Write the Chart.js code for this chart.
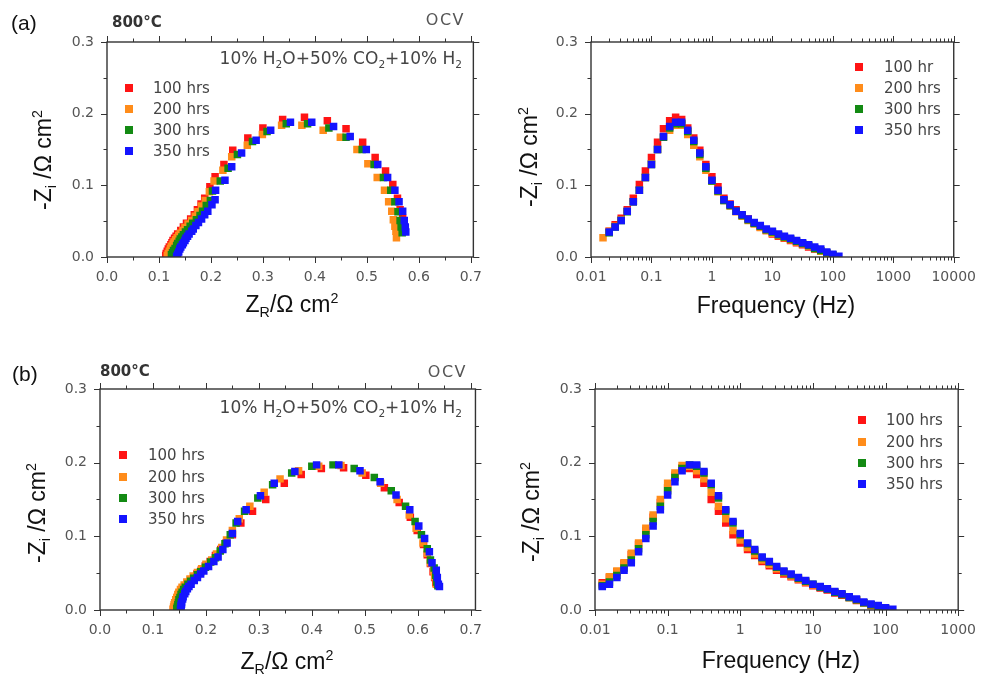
<!DOCTYPE html>
<html>
<head>
<meta charset="utf-8">
<script src="https://cdn.jsdelivr.net/npm/chart.js@4.4.0/dist/chart.umd.min.js"></script>
<style>
  body { margin: 0; background: #fff; }
  #fig { position: relative; width: 988px; height: 675px; overflow: hidden; font-family: "DejaVu Sans", sans-serif; }
  canvas { position: absolute; }
  .t { position: absolute; white-space: nowrap; line-height: 1; }
  .ttl { font-family: "Liberation Sans", Arial, sans-serif; font-size: 23px; color: #111; transform: translate(-50%, -50%); }
  .ttl.v { transform: translate(-50%, -50%) rotate(-90deg); }
  sub, sup { font-size: 62%; line-height: 0; position: relative; vertical-align: baseline; }
  sub { top: 0.35em; }
  sup { top: -0.6em; }
  .lab { font-family: "Liberation Sans", Arial, sans-serif; font-size: 21px; color: #111; transform: translateY(-50%); }
  .temp { font-weight: bold; font-size: 15px; color: #333; transform: translateY(-50%); }
  .ocv { font-size: 16px; letter-spacing: 1.5px; color: #555; transform: translateY(-50%); }
  .gas { font-size: 17px; color: #444; transform: translateY(-50%); }
  .lg { position: absolute; font-size: 15px; color: #444; line-height: 1; transform: translateY(-50%); white-space: nowrap; }
  .sq { position: absolute; width: 8px; height: 8px; }
</style>
</head>
<body>
<div id="fig">
  <canvas id="aNyq" width="494" height="330" style="left:0;top:0"></canvas>
  <canvas id="aBode" width="494" height="330" style="left:494px;top:0"></canvas>
  <canvas id="bNyq" width="494" height="345" style="left:0;top:330px"></canvas>
  <canvas id="bBode" width="494" height="345" style="left:494px;top:330px"></canvas>

  <div class="t lab" style="left:11px;top:22px">(a)</div>
  <div class="t lab" style="left:12px;top:373px">(b)</div>
  <div class="t temp" style="left:112px;top:22px">800°C</div>
  <div class="t temp" style="left:100px;top:371px">800°C</div>
  <div class="t ocv" style="right:523px;top:20px">OCV</div>
  <div class="t ocv" style="right:521px;top:372px">OCV</div>
  <div class="t gas" style="right:526px;top:58px">10% H<sub>2</sub>O+50% CO<sub>2</sub>+10% H<sub>2</sub></div>
  <div class="t gas" style="right:526px;top:407px">10% H<sub>2</sub>O+50% CO<sub>2</sub>+10% H<sub>2</sub></div>

  <div class="t ttl" style="left:292px;top:304px">Z<sub>R</sub>/Ω cm<sup>2</sup></div>
  <div class="t ttl" style="left:776px;top:305px">Frequency (Hz)</div>
  <div class="t ttl" style="left:287px;top:661px">Z<sub>R</sub>/Ω cm<sup>2</sup></div>
  <div class="t ttl" style="left:781px;top:660px">Frequency (Hz)</div>
  <div class="t ttl v" style="left:43px;top:160px">-Z<sub>i</sub> /Ω cm<sup>2</sup></div>
  <div class="t ttl v" style="left:529px;top:157px">-Z<sub>i</sub> /Ω cm<sup>2</sup></div>
  <div class="t ttl v" style="left:37px;top:513px">-Z<sub>i</sub> /Ω cm<sup>2</sup></div>
  <div class="t ttl v" style="left:531px;top:512px">-Z<sub>i</sub> /Ω cm<sup>2</sup></div>
</div>

<script>
// frequences de mesure (Hz), du plus bas au plus haut
const freq = [0.0126, 0.0158, 0.02, 0.0251, 0.0316, 0.0398, 0.0501, 0.0631, 0.0794, 0.1,
  0.126, 0.158, 0.2, 0.251, 0.316, 0.398, 0.501, 0.631, 0.794, 1,
  1.26, 1.58, 2, 2.51, 3.16, 3.98, 5.01, 6.31, 7.94, 10,
  12.6, 15.8, 20, 25.1, 31.6, 39.8, 50.1, 63.1, 79.4, 100, 126];

const labels = ['100 hrs', '200 hrs', '300 hrs', '350 hrs'];
const labelsABode = ['100 hr', '200 hrs', '300 hrs', '350 hrs'];
const colors = ['#ff1414', '#ff8c1a', '#138a13', '#1414ff'];

const zrTicks = [0, 0.1, 0.2, 0.3, 0.4, 0.5, 0.6, 0.7];
const ziTicks = [0, 0.1, 0.2, 0.3];
const freqTicksA = [0.01, 0.1, 1, 10, 100, 1000, 10000];
const freqTicksB = [0.01, 0.1, 1, 10, 100, 1000];

// (a) : indice de depart dans freq pour chaque serie
const aStart = [2, 1, 2, 2];
const aZr100 = [0.574,0.572,0.569,0.564,0.559,0.550,0.536,0.516,0.492,0.460,0.424,0.380,0.338,0.300,0.271,0.242,0.225,0.208,0.198,0.188,0.181,0.174,0.168,0.161,0.153,0.147,0.142,0.136,0.133,0.130,0.127,0.125,0.123,0.120,0.118,0.116,0.114,0.113];
const aZi100 = [0.036,0.045,0.054,0.066,0.082,0.101,0.120,0.139,0.160,0.179,0.190,0.195,0.192,0.180,0.166,0.149,0.129,0.112,0.098,0.082,0.074,0.066,0.059,0.053,0.047,0.042,0.037,0.032,0.029,0.026,0.023,0.020,0.017,0.014,0.011,0.008,0.005,0.002];
const aZr200 = [0.557,0.556,0.554,0.551,0.548,0.542,0.534,0.520,0.502,0.481,0.449,0.416,0.375,0.336,0.299,0.270,0.240,0.223,0.206,0.197,0.189,0.182,0.175,0.170,0.163,0.156,0.150,0.146,0.141,0.138,0.135,0.132,0.129,0.127,0.124,0.122,0.120,0.118,0.116];
const aZi200 = [0.027,0.036,0.043,0.052,0.064,0.077,0.093,0.111,0.130,0.150,0.167,0.177,0.184,0.184,0.171,0.156,0.140,0.121,0.106,0.091,0.079,0.071,0.063,0.057,0.051,0.046,0.041,0.037,0.033,0.030,0.027,0.024,0.021,0.018,0.015,0.012,0.008,0.005,0.002];
const aZr300 = [0.568,0.566,0.564,0.560,0.554,0.546,0.532,0.514,0.491,0.460,0.427,0.386,0.345,0.308,0.280,0.251,0.233,0.218,0.203,0.199,0.191,0.184,0.179,0.172,0.165,0.160,0.155,0.151,0.147,0.144,0.141,0.139,0.136,0.134,0.131,0.128,0.126,0.124];
const aZi300 = [0.034,0.042,0.051,0.063,0.077,0.093,0.111,0.129,0.150,0.167,0.180,0.186,0.186,0.175,0.161,0.143,0.124,0.106,0.092,0.079,0.072,0.064,0.058,0.052,0.047,0.043,0.038,0.035,0.031,0.028,0.025,0.022,0.019,0.016,0.012,0.009,0.006,0.003];
const aZr350 = [0.575,0.574,0.572,0.569,0.562,0.554,0.540,0.521,0.499,0.468,0.436,0.394,0.353,0.315,0.287,0.259,0.240,0.227,0.209,0.208,0.202,0.194,0.188,0.182,0.176,0.171,0.166,0.163,0.158,0.155,0.152,0.150,0.147,0.145,0.142,0.140,0.138,0.136,0.134];
const aZi350 = [0.035,0.042,0.051,0.064,0.077,0.093,0.111,0.129,0.150,0.168,0.182,0.188,0.188,0.177,0.163,0.145,0.126,0.107,0.093,0.080,0.073,0.064,0.059,0.053,0.048,0.044,0.039,0.036,0.032,0.029,0.026,0.023,0.020,0.017,0.014,0.011,0.007,0.004,0.001];

// (b)
const bStart = [0, 0, 0, 0];
const bZr100 = [0.634,0.632,0.629,0.624,0.618,0.611,0.599,0.586,0.565,0.537,0.502,0.460,0.418,0.380,0.348,0.313,0.288,0.266,0.250,0.238,0.228,0.218,0.208,0.199,0.191,0.183,0.177,0.171,0.165,0.160,0.156,0.153,0.150,0.148,0.146,0.144,0.142,0.141,0.140,0.139];
const bZi100 = [0.037,0.044,0.052,0.063,0.075,0.089,0.108,0.126,0.146,0.166,0.183,0.193,0.192,0.184,0.172,0.150,0.134,0.118,0.102,0.091,0.082,0.074,0.066,0.060,0.054,0.049,0.045,0.041,0.037,0.033,0.030,0.027,0.023,0.020,0.017,0.013,0.010,0.006,0.003,0.001];
const bZr200 = [0.635,0.632,0.630,0.624,0.618,0.610,0.597,0.584,0.561,0.530,0.495,0.455,0.413,0.375,0.340,0.310,0.283,0.263,0.250,0.239,0.230,0.220,0.211,0.200,0.192,0.184,0.176,0.170,0.164,0.159,0.155,0.152,0.149,0.147,0.145,0.143,0.141,0.140,0.139,0.138];
const bZi200 = [0.035,0.045,0.053,0.064,0.077,0.091,0.111,0.129,0.150,0.172,0.186,0.196,0.195,0.189,0.178,0.160,0.141,0.124,0.108,0.095,0.085,0.076,0.068,0.062,0.056,0.051,0.046,0.042,0.038,0.034,0.031,0.028,0.024,0.021,0.017,0.014,0.010,0.007,0.004,0.001];
const bZr300 = [0.638,0.636,0.634,0.631,0.624,0.618,0.607,0.595,0.577,0.550,0.518,0.480,0.440,0.400,0.362,0.326,0.298,0.273,0.257,0.246,0.236,0.227,0.218,0.209,0.199,0.190,0.184,0.177,0.171,0.166,0.161,0.158,0.155,0.153,0.151,0.149,0.148,0.147,0.146,0.145];
const bZi300 = [0.033,0.038,0.047,0.057,0.068,0.083,0.102,0.120,0.141,0.162,0.180,0.192,0.197,0.195,0.186,0.170,0.152,0.134,0.118,0.102,0.090,0.080,0.071,0.065,0.058,0.052,0.048,0.043,0.039,0.035,0.031,0.028,0.024,0.021,0.017,0.014,0.010,0.007,0.004,0.002];
const bZr350 = [0.641,0.639,0.637,0.635,0.627,0.622,0.613,0.602,0.585,0.559,0.529,0.491,0.451,0.409,0.368,0.329,0.303,0.276,0.260,0.250,0.240,0.232,0.223,0.215,0.205,0.196,0.190,0.184,0.178,0.172,0.168,0.165,0.162,0.160,0.157,0.156,0.154,0.154,0.153,0.153,0.152];
const bZi350 = [0.032,0.035,0.044,0.054,0.064,0.079,0.097,0.114,0.136,0.156,0.174,0.189,0.197,0.197,0.188,0.172,0.155,0.136,0.120,0.104,0.091,0.082,0.072,0.066,0.059,0.053,0.049,0.044,0.040,0.035,0.032,0.029,0.025,0.022,0.018,0.015,0.011,0.008,0.006,0.003,0.001];

const aZr = [aZr100, aZr200, aZr300, aZr350];
const aZi = [aZi100, aZi200, aZi300, aZi350];
const bZr = [bZr100, bZr200, bZr300, bZr350];
const bZi = [bZi100, bZi200, bZi300, bZi350];

// cadre + graduations sur les 4 cotes
const frameTicks = {
  id: 'frameTicks',
  afterDraw(chart) {
    const { ctx, chartArea: a, scales: { x, y } } = chart;
    ctx.save();
    ctx.strokeStyle = '#333';
    ctx.lineWidth = 1.4;
    ctx.strokeRect(a.left, a.top, a.right - a.left, a.bottom - a.top);
    ctx.lineWidth = 1;
    ctx.beginPath();
    const vt = (v, major) => {
      const px = Math.round(x.getPixelForValue(v)) + 0.5;
      const l = major ? 6 : 3.5;
      ctx.moveTo(px, a.bottom); ctx.lineTo(px, a.bottom + l);
      ctx.moveTo(px, a.top); ctx.lineTo(px, a.top - l);
    };
    const ht = (v, major) => {
      const py = Math.round(y.getPixelForValue(v)) + 0.5;
      const l = major ? 6 : 3.5;
      ctx.moveTo(a.left, py); ctx.lineTo(a.left - l, py);
      ctx.moveTo(a.right, py); ctx.lineTo(a.right + l, py);
    };
    if (x.type === 'logarithmic') {
      for (let e = -2; e <= 4; e++) {
        for (let m = 1; m <= 9; m++) {
          const v = m * Math.pow(10, e);
          if (v >= x.min * 0.999 && v <= x.max * 1.001) vt(v, m === 1);
        }
      }
    } else {
      for (let k = 0; k * 0.05 <= x.max + 1e-9; k++) vt(k * 0.05, k % 2 === 0);
    }
    for (let k = 0; k * 0.05 <= y.max + 1e-9; k++) ht(k * 0.05, k % 2 === 0);
    ctx.stroke();
    ctx.restore();
  }
};

const tickFont = { family: 'DejaVu Sans', size: 14 };

// order : la serie 350 hrs (bleu) est dessinee par-dessus les autres
function nyqSets(zr, zi) {
  return zi.map((ys, s) => ({
    label: labels[s],
    data: ys.map((v, i) => ({ x: zr[s][i], y: v })),
    backgroundColor: colors[s],
    order: 3 - s,
    pointStyle: 'rect', pointRadius: 5.3, pointBorderWidth: 0, showLine: false
  }));
}

function bodeSets(zi, start) {
  return zi.map((ys, s) => ({
    label: labels[s],
    data: ys.map((v, i) => ({ x: freq[start[s] + i], y: v })),
    backgroundColor: colors[s],
    order: 3 - s,
    pointStyle: 'rect', pointRadius: 5.3, pointBorderWidth: 0, showLine: false
  }));
}

function yScale(width) {
  return {
    type: 'linear', min: 0, max: 0.3,
    afterBuildTicks: s => { s.ticks = ziTicks.map(v => ({ value: v })); },
    afterFit: s => { s.width = width; },
    grid: { display: false, drawTicks: false }, border: { display: false },
    ticks: { font: tickFont, color: '#555', padding: 13, callback: v => v.toFixed(1) }
  };
}

function zrScale(max, height) {
  return {
    type: 'linear', min: 0, max: max,
    afterBuildTicks: s => { s.ticks = zrTicks.map(v => ({ value: v })); },
    afterFit: s => { s.height = height; },
    grid: { display: false, drawTicks: false }, border: { display: false },
    ticks: { font: tickFont, color: '#555', padding: 12, maxRotation: 0, autoSkip: false, callback: v => v.toFixed(1) }
  };
}

function freqScale(max, tickVals, height) {
  return {
    type: 'logarithmic', min: 0.01, max: max,
    afterBuildTicks: s => { s.ticks = tickVals.map(v => ({ value: v })); },
    afterFit: s => { s.height = height; },
    grid: { display: false, drawTicks: false }, border: { display: false },
    ticks: { font: tickFont, color: '#555', padding: 12, maxRotation: 0, autoSkip: false, callback: v => String(v) }
  };
}

function makeChart(id, datasets, xs, ys, pad) {
  return new Chart(document.getElementById(id), {
    type: 'scatter',
    data: { datasets: datasets },
    options: {
      responsive: false, animation: false, devicePixelRatio: 1,
      layout: { padding: pad },
      plugins: { legend: { display: false }, tooltip: { enabled: false } },
      scales: { x: xs, y: ys }
    },
    plugins: [frameTicks]
  });
}

makeChart('aNyq', nyqSets(aZr, aZi), zrScale(0.705, 73), yScale(107), { top: 42, right: 15, left: 0, bottom: 0 });
makeChart('aBode', bodeSets(aZi, aStart), freqScale(10000, freqTicksA, 73), yScale(97), { top: 42, right: 28, left: 0, bottom: 0 });
makeChart('bNyq', nyqSets(bZr, bZi), zrScale(0.709, 65), yScale(100), { top: 59, right: 14, left: 0, bottom: 0 });
makeChart('bBode', bodeSets(bZi, bStart), freqScale(1000, freqTicksB, 65), yScale(101), { top: 59, right: 21, left: 0, bottom: 0 });

// legendes (positions des lignes, en px de la page)
const fig = document.getElementById('fig');
function legend(names, mx, tx, rows) {
  names.forEach((n, i) => {
    const sq = document.createElement('div');
    sq.className = 'sq';
    sq.style.background = colors[i];
    sq.style.left = (mx - 4) + 'px';
    sq.style.top = (rows[i] - 4) + 'px';
    fig.appendChild(sq);
    const txt = document.createElement('div');
    txt.className = 'lg';
    txt.textContent = n;
    txt.style.left = tx + 'px';
    txt.style.top = rows[i] + 'px';
    fig.appendChild(txt);
  });
}
legend(labels, 129, 153, [88, 109, 130, 151]);
legend(labelsABode, 859, 884, [67, 88, 109, 130]);
legend(labels, 123, 148, [455, 477, 498, 519]);
legend(labels, 862, 886, [420, 442, 463, 484]);
</script>
</body>
</html>
